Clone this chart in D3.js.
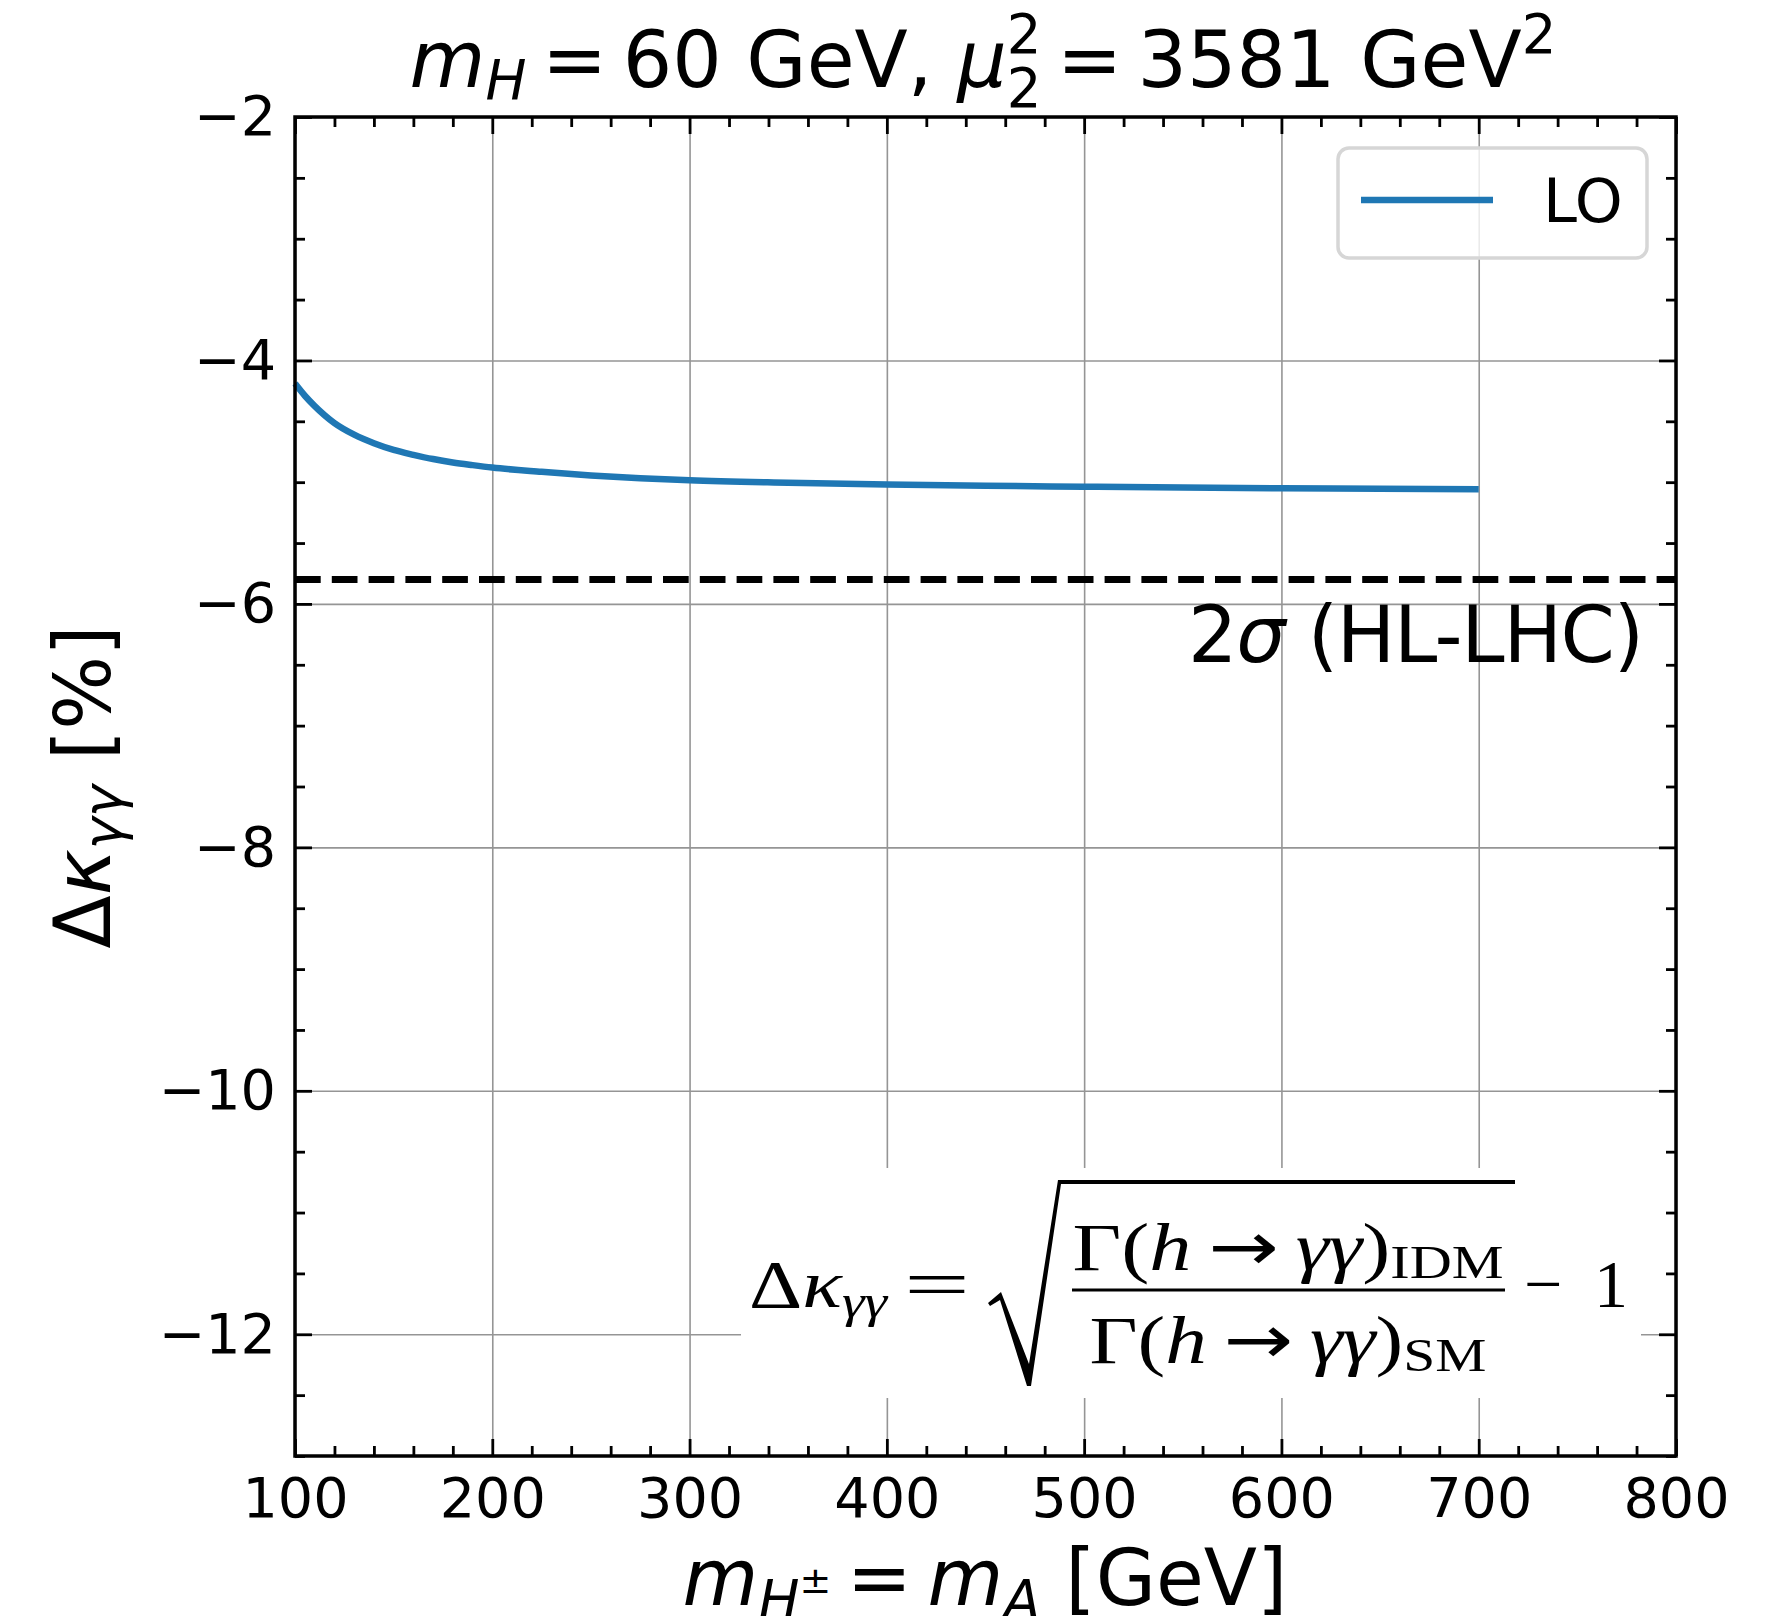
<!DOCTYPE html>
<html>
<head>
<meta charset="utf-8">
<script src="https://cdn.jsdelivr.net/npm/d3@7"></script>
<style>
    body { margin: 0; background: #fff; }
    text { font-family: "DejaVu Sans", sans-serif; white-space: pre; }
    .formula text { font-family: "Liberation Serif", "DejaVu Serif", serif; }
    .formula .arrow { font-family: "DejaVu Sans", sans-serif; }
</style>
</head>
<body>
<svg id="chart" width="1779" height="1616"></svg>
<script>

// charged / pseudoscalar mass scan [GeV] and the LO shift of the photon coupling [%]
const massGeV = [100, 105, 110, 115, 120, 130, 140, 150, 160, 170, 180, 190, 200,
    225, 250, 275, 300, 350, 400, 450, 500, 550, 600, 650, 700];
const deltaKappaLO = [-4.19, -4.29, -4.375, -4.45, -4.515, -4.61, -4.68, -4.735, -4.775, -4.81, -4.838, -4.86, -4.88,
    -4.915, -4.945, -4.968, -4.985, -5.005, -5.02, -5.03, -5.037, -5.044, -5.05, -5.054, -5.058];

// projected 2 sigma sensitivity at the HL-LHC [%]
const hlLhcLimit = -5.8;

// axis ticks
const xTickValues = [100, 200, 300, 400, 500, 600, 700, 800];
const yTickValues = [-2, -4, -6, -8, -10, -12];
const xMinorValues = d3.range(100, 801, 20).filter(v => v % 100 !== 0);
const yMinorValues = d3.range(-13, -1.9, 0.5).filter(v => v % 2 !== 0);

const legendLabels = ['LO'];

const svg = d3.select('#chart');
const plot = { left: 295, right: 1676, top: 117, bottom: 1456 };
const blue = '#1f77b4';

let x = d3.scaleLinear().domain([100, 800]).range([plot.left, plot.right]);
let y = d3.scaleLinear().domain([-13, -2]).range([plot.bottom, plot.top]);

// grid lines at the major ticks
function grid(g, axis) {
    g.call(axis).call(s => s.select('.domain').remove());
    g.selectAll('line').attr('stroke', '#959595').attr('stroke-width', 1.6);
}
svg.append('g')
    .attr('transform', `translate(0,${plot.bottom})`)
    .call(grid, d3.axisBottom(x).tickValues(xTickValues).tickSize(-(plot.bottom - plot.top)).tickFormat(''));
svg.append('g')
    .attr('transform', `translate(${plot.left},0)`)
    .call(grid, d3.axisLeft(y).tickValues(yTickValues).tickSize(-(plot.right - plot.left)).tickFormat(''));

// white box behind the definition, it hides the grid
svg.append('rect')
    .attr('x', 741).attr('y', 1168).attr('width', 900).attr('height', 230)
    .attr('fill', '#fff');

// HL-LHC line
svg.append('line')
    .attr('x1', x(100)).attr('x2', x(800))
    .attr('y1', y(hlLhcLimit)).attr('y2', y(hlLhcLimit))
    .attr('stroke', '#000').attr('stroke-width', 6.9)
    .attr('stroke-dasharray', '25.7 11.1');

// the LO curve
let line = d3.line()
    .curve(d3.curveMonotoneX)
    .x(d => x(d[0]))
    .y(d => y(d[1]));
svg.append('path')
    .datum(d3.zip(massGeV, deltaKappaLO))
    .attr('d', line)
    .attr('fill', 'none')
    .attr('stroke', blue)
    .attr('stroke-width', 6.5)
    .attr('stroke-linejoin', 'round');

// ticks point inwards on all four sides, labels only bottom and left
function ticks(g, axis, labels) {
    g.call(axis).call(s => s.select('.domain').remove());
    g.attr('font-family', null).attr('font-size', 55.6);
    g.selectAll('line').attr('stroke', '#000').attr('stroke-width', 2.8);
    if (!labels) g.selectAll('text').remove();
}
const major = 17, minor = 10;
svg.append('g').attr('transform', `translate(0,${plot.bottom})`)
    .call(ticks, d3.axisBottom(x).tickValues(xTickValues).tickSizeInner(-major).tickSizeOuter(0).tickPadding(22).tickFormat(d3.format('d')), true);
svg.append('g').attr('transform', `translate(${plot.left},0)`)
    .call(ticks, d3.axisLeft(y).tickValues(yTickValues).tickSizeInner(-major).tickSizeOuter(0).tickPadding(19).tickFormat(d3.format('d')), true);
svg.append('g').attr('transform', `translate(0,${plot.top})`)
    .call(ticks, d3.axisTop(x).tickValues(xTickValues).tickSizeInner(-major).tickSizeOuter(0), false);
svg.append('g').attr('transform', `translate(${plot.right},0)`)
    .call(ticks, d3.axisRight(y).tickValues(yTickValues).tickSizeInner(-major).tickSizeOuter(0), false);

// minor ticks
svg.append('g').attr('transform', `translate(0,${plot.bottom})`)
    .call(ticks, d3.axisBottom(x).tickValues(xMinorValues).tickSizeInner(-minor).tickSizeOuter(0), false);
svg.append('g').attr('transform', `translate(0,${plot.top})`)
    .call(ticks, d3.axisTop(x).tickValues(xMinorValues).tickSizeInner(-minor).tickSizeOuter(0), false);
svg.append('g').attr('transform', `translate(${plot.left},0)`)
    .call(ticks, d3.axisLeft(y).tickValues(yMinorValues).tickSizeInner(-minor).tickSizeOuter(0), false);
svg.append('g').attr('transform', `translate(${plot.right},0)`)
    .call(ticks, d3.axisRight(y).tickValues(yMinorValues).tickSizeInner(-minor).tickSizeOuter(0), false);

// frame
svg.append('rect')
    .attr('x', plot.left).attr('y', plot.top)
    .attr('width', plot.right - plot.left).attr('height', plot.bottom - plot.top)
    .attr('fill', 'none').attr('stroke', '#000').attr('stroke-width', 3.5);

// legend
let legend = svg.append('g').attr('class', 'legend');
legend.append('rect')
    .attr('x', 1338).attr('y', 148).attr('width', 309).attr('height', 110)
    .attr('rx', 11)
    .attr('fill', '#fff').attr('fill-opacity', 0.8)
    .attr('stroke', '#d6d6d6').attr('stroke-width', 3.5);
legend.selectAll('g.entry')
    .data(legendLabels)
    .enter().append('g')
    .attr('class', 'entry')
    .each(function(label) {
        let g = d3.select(this);
        g.append('line')
            .attr('x1', 1361).attr('x2', 1493).attr('y1', 200).attr('y2', 200)
            .attr('stroke', blue).attr('stroke-width', 6.5);
        g.append('text')
            .attr('x', 1543).attr('y', 222)
            .attr('font-size', 61)
            .text(label);
    });

// small helper to build text out of (string, options) pieces
function rich(text, parts) {
    parts.forEach(p => {
        let t = text.append('tspan').text(p[0]);
        let o = p[1] || {};
        if (o.italic) t.attr('font-style', 'italic');
        if (o.size) t.attr('font-size', o.size);
        if (o.dy) t.attr('dy', o.dy);
        if (o.dx) t.attr('dx', o.dx);
        if (o.cls) t.attr('class', o.cls);
    });
    return text;
}
const big = 77.8, small = 54.5;
const thin = '\u2009'; // mathtext puts less room round "=" than a normal space

// title
rich(svg.append('text')
    .attr('x', 983).attr('y', 87)
    .attr('text-anchor', 'middle')
    .attr('font-size', big), [
    ['m', { italic: true }],
    ['H', { italic: true, size: small, dy: 12 }],
    [thin + '=' + thin + '60 GeV, ', { dy: -12 }],
    ['μ', { italic: true }],
    ['2', { size: small, dy: 20 }],
    ['2', { size: small, dx: -34.7, dy: -54 }],
    [thin + '=' + thin + '3581 GeV', { dy: 34 }],
    ['2', { size: small, dy: -34 }]
]);

// x axis label
rich(svg.append('text')
    .attr('x', 985).attr('y', 1605)
    .attr('text-anchor', 'middle')
    .attr('font-size', big), [
    ['m', { italic: true }],
    ['H', { italic: true, size: small, dy: 14 }],
    ['±', { size: 38, dy: -26 }],
    [thin + '=' + thin, { dy: 12 }],
    ['m', { italic: true }],
    ['A', { italic: true, size: small, dy: 14 }],
    [' [GeV]', { dy: -14 }]
]);

// y axis label
rich(svg.append('text')
    .attr('transform', 'translate(110,787) rotate(-90)')
    .attr('text-anchor', 'middle')
    .attr('font-size', big), [
    ['Δ'],
    ['κ', { italic: true }],
    ['γγ', { italic: true, size: small, dy: 12 }],
    [' [%]', { dy: -12 }]
]);

// label of the dashed line
rich(svg.append('text')
    .attr('x', 1644).attr('y', 662)
    .attr('text-anchor', 'end')
    .attr('font-size', big)
    .attr('textLength', 456).attr('lengthAdjust', 'spacing'), [
    ['2'],
    ['σ', { italic: true }],
    [' (HL-LHC)']
]);

// definition of the coupling shift, written out by hand
let formula = svg.append('g').attr('class', 'formula');
const fs = 68, fsub = 47;
rich(formula.append('text').attr('x', 749).attr('y', 1307).attr('font-size', fs)
    .attr('textLength', 138).attr('lengthAdjust', 'spacingAndGlyphs'), [
    ['Δ'],
    ['κ', { italic: true }],
    ['γγ', { italic: true, size: fsub, dy: 10 }]
]);
formula.append('text').attr('x', 904).attr('y', 1307).attr('font-size', fs)
    .attr('textLength', 66).attr('lengthAdjust', 'spacingAndGlyphs').text('=');
// radical sign
formula.append('path')
    .attr('d', 'M988,1303 L1001,1292 L1029,1364 L1058,1180 L1515,1180 L1515,1184 L1061,1184 L1031,1386 L1027,1386 L1000,1300 L990,1306 Z')
    .attr('fill', '#000');
// numerator and denominator differ only in the subscript
[['IDM', 1270, 431], ['SM', 1363, 397]].forEach(([model, baseline, width]) => {
    rich(formula.append('text')
        .attr('x', 1288).attr('y', baseline).attr('text-anchor', 'middle').attr('font-size', fs)
        .attr('textLength', width).attr('lengthAdjust', 'spacingAndGlyphs'), [
        ['Γ('],
        ['h', { italic: true }],
        [thin],
        ['→', { cls: 'arrow' }],
        [thin],
        ['γγ', { italic: true }],
        [')'],
        [model, { size: fsub, dy: 8 }]
    ]);
});
formula.append('line')
    .attr('x1', 1072).attr('x2', 1505).attr('y1', 1290).attr('y2', 1290)
    .attr('stroke', '#000').attr('stroke-width', 3);
formula.append('text').attr('x', 1524).attr('y', 1307).attr('font-size', fs).text('−');
formula.append('text').attr('x', 1628).attr('y', 1307).attr('text-anchor', 'end').attr('font-size', fs).text('1');

</script>
</body>
</html>
